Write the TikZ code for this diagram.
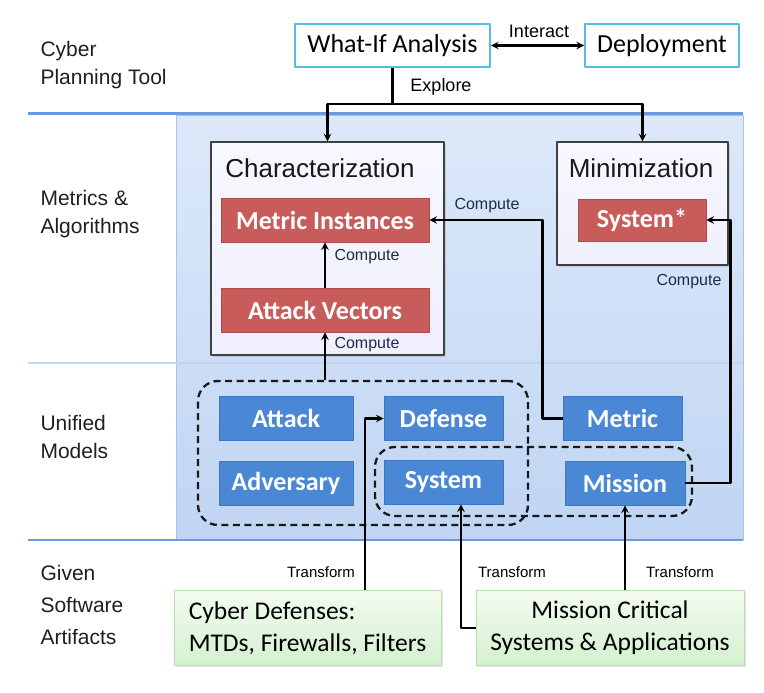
\documentclass[tikz,border=0pt]{standalone}
\usepackage{fontspec}
\setmainfont{Liberation Sans}
\newfontfamily\calib{Carlito}
\usetikzlibrary{shadows}
\definecolor{cyanedge}{HTML}{55BDE3}
\definecolor{redfill}{HTML}{C85C5B}
\definecolor{rededge}{HTML}{B04B4A}
\definecolor{bluefill}{HTML}{4A88D6}
\definecolor{blueedge}{HTML}{3D76C2}
\definecolor{paneltop}{HTML}{DDE9FA}
\definecolor{panelbot}{HTML}{C0D5F3}
\definecolor{paneledge}{HTML}{A8C3EA}
\definecolor{rulecol}{HTML}{6A9BE0}
\definecolor{midrule}{HTML}{C2D5F0}
\definecolor{greentop}{HTML}{F3FCF0}
\definecolor{greenbot}{HTML}{D4F0CF}
\definecolor{greenedge}{HTML}{B9DCB3}
\definecolor{tagcol}{HTML}{1D2B4F}
\begin{document}
\begin{tikzpicture}[x=1pt, y=-1pt, line join=round, >=stealth,
    side/.style={anchor=west, align=left, text=black!88, font=\fontsize{21}{28}\selectfont},
    toolbox/.style={draw=cyanedge, line width=2pt, fill=white, inner sep=0pt, minimum height=43pt, font=\calib\fontsize{26}{30}\selectfont},
    redbox/.style={draw=rededge, line width=.8pt, fill=redfill, text=white, inner sep=0pt, minimum width=208pt, minimum height=44pt, font=\calib\bfseries\fontsize{26}{30}\selectfont},
    bluebox/.style={draw=blueedge, line width=.8pt, fill=bluefill, text=white, inner sep=0pt, minimum height=44pt, font=\calib\bfseries\fontsize{26}{30}\selectfont},
    groupbox/.style={draw=black!75, line width=1.2pt, top color=black!2!blue!3, bottom color=black!10!blue!6, inner sep=0pt, drop shadow={opacity=.25, shadow xshift=1.5pt, shadow yshift=-1.5pt}},
    grouptitle/.style={text=black!90, font=\fontsize{26}{30}\selectfont},
    dashbox/.style={draw=black!90, line width=2.3pt, dash pattern=on 7pt off 4.5pt, rounded corners=20pt, inner sep=0pt},
    artbox/.style={draw=greenedge, line width=1pt, top color=greentop, bottom color=greenbot, inner sep=0pt, minimum height=75pt, font=\calib\fontsize{25.5}{32}\selectfont, drop shadow={opacity=.2, shadow xshift=1.5pt, shadow yshift=-1.5pt}},
    conn/.style={line width=2.3pt, ->},
    tag/.style={text=tagcol, font=\fontsize{16}{18}\selectfont},
  ]
  \useasboundingbox (0,0) rectangle (764,693);
  % layer bands
  \fill[top color=paneltop, bottom color=panelbot] (176,115) rectangle (743,540);
  \draw[paneledge, line width=.8pt] (176,115) rectangle (743,540);
  \draw[rulecol, line width=3pt] (28,114) -- (743,114);
  \draw[midrule, line width=1.5pt] (28,363) -- (743,363);
  \draw[rulecol, line width=2.5pt] (28,540) -- (743,540);

  \node[side] (lplan) at (37,65) {Cyber\\Planning Tool};
  \node[side] (lmetric) at (37,214) {Metrics \&\\Algorithms};
  \node[side] (lmodel) at (37,437) {Unified\\Models};
  \node[side, font=\fontsize{21}{32}\selectfont] (lgiven) at (37,605) {Given\\Software\\Artifacts};

  % planning tool
  \node[toolbox, minimum width=195pt] (whatif) at (392.5,45.5) {What-If Analysis};
  \node[toolbox, minimum width=154pt] (deploy) at (662,45.5) {Deployment};
  \draw[conn, <->] (whatif) -- (deploy);
  \node[font=\fontsize{18}{20}\selectfont] (tinteract) at (539,31) {Interact};
  \coordinate (fork) at (392.5,104);
  \node[font=\fontsize{18}{20}\selectfont] (texplore) at (441,87) {Explore};

  % metrics and algorithms
  \node[groupbox, minimum width=233pt, minimum height=213pt] (charbox) at (327.5,248.5) {};
  \node[grouptitle] (chartitle) at (320,168) {Characterization};
  \node[redbox] (metinst) at (325,220) {Metric Instances};
  \node[redbox] (attvec) at (325,310) {Attack Vectors};
  \node[groupbox, minimum width=171pt, minimum height=123pt] (minbox) at (642.5,203.5) {};
  \node[grouptitle] (mintitle) at (641,168) {Minimization};
  \node[redbox, minimum width=128pt, minimum height=42pt] (sysstar) at (642,220) {System*};

  \draw[line width=2.3pt] (whatif.south) -- (fork);
  \draw[conn] (fork) -| (charbox.north);
  \draw[conn] (fork) -| (minbox.north);

  % unified models
  \node[bluebox, minimum width=134pt] (attack) at (286,418.5) {Attack};
  \node[bluebox, minimum width=119pt] (defense) at (443.5,418.5) {Defense};
  \node[bluebox, minimum width=119pt] (metric) at (622.5,418.5) {Metric};
  \node[bluebox, minimum width=134pt] (adversary) at (286,483) {Adversary};
  \node[bluebox, minimum width=119pt] (system) at (443.5,482) {System};
  \node[bluebox, minimum width=120pt] (mission) at (625,483) {Mission};
  \node[dashbox, minimum width=330pt, minimum height=144pt] (grpthreat) at (363,453) {};
  \node[dashbox, minimum width=317pt, minimum height=69pt] (grpasset) at (533.5,481.5) {};

  \draw[conn] (attvec) -- (metinst);
  \draw[conn] (attvec |- grpthreat.north) -- (attvec.south);
  \draw[conn] (metric.west) -- ++(-20,0) |- (metinst.east);
  \draw[conn] (mission.east) -- ++(45,0) |- (sysstar.east);
  \node[tag, anchor=west] (tcomp1) at (331,257) {Compute};
  \node[tag, anchor=west] (tcomp2) at (331,345) {Compute};
  \node[tag] (tcomp3) at (487,206) {Compute};
  \node[tag] (tcomp4) at (689,282) {Compute};

  % given artifacts
  \node[artbox, minimum width=267pt, align=left] (defart) at (307.5,628) {Cyber Defenses:\\MTDs, Firewalls, Filters};
  \node[artbox, minimum width=268pt, align=center] (misart) at (610,628) {Mission Critical\\Systems \& Applications};
  \draw[conn] ([xshift=57.5pt]defart.north) |- (defense.west);
  \draw[conn] (misart.west) -| ([xshift=17.5pt]system.south);
  \draw[conn] (mission |- misart.north) -- (mission.south);
  \node[font=\fontsize{15}{18}\selectfont] (ttrans1) at (321,572) {Transform};
  \node[font=\fontsize{15}{18}\selectfont] (ttrans2) at (512,572) {Transform};
  \node[font=\fontsize{15}{18}\selectfont] (ttrans3) at (680,572) {Transform};
\end{tikzpicture}
\end{document}
